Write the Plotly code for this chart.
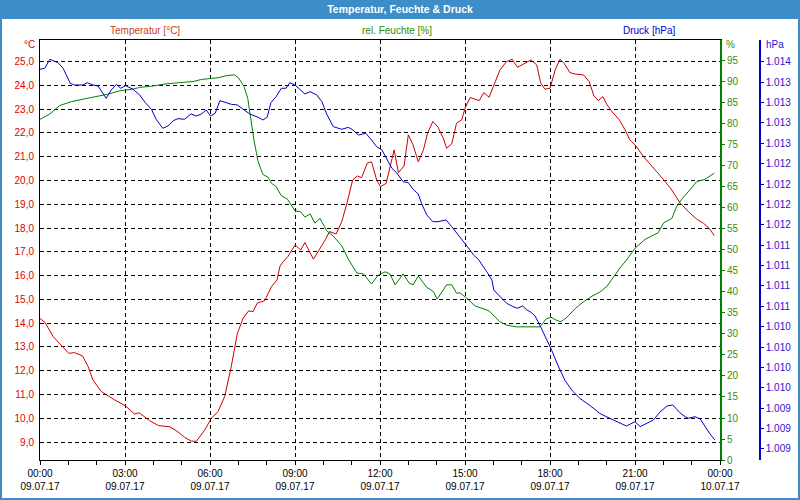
import plotly.graph_objects as go

DAY = "2017-07-09"

# Temperatur [°C]
temp_time = ["00:00","00:11","00:28","00:45","01:01","01:13","01:30","01:42","01:52","02:10",
             "02:38","03:01","03:20","03:30","03:52","04:11","04:35","04:52","05:06","05:20",
             "05:31","05:49","06:03","06:17","06:31","06:45","06:58","07:10","07:22","07:31",
             "07:40","07:56","08:10","08:22","08:28","08:35","08:45","09:00","09:12","09:21",
             "09:39","10:04","10:13","10:27","10:39","10:50","11:02","11:12","11:21","11:33",
             "11:42","11:53","12:01","12:13","12:21","12:30","12:39","12:51","12:55","13:00",
             "13:10","13:21","13:32","13:41","13:52","14:03","14:14","14:21","14:32","14:42",
             "14:53","15:00","15:11","15:30","15:40","15:51","16:00","16:14","16:28","16:40",
             "16:51","17:03","17:20","17:32","17:40","17:49","18:00","18:11","18:21","18:30",
             "18:42","18:53","19:11","19:23","19:33","19:42","19:52","20:01","20:11","20:27",
             "20:39","20:49","21:02","21:19","21:30","21:46","22:00","22:18","22:35","22:53",
             "23:11","23:25","23:37","23:48"]
temp_vals = [14.20,14.02,13.43,13.05,12.73,12.76,12.62,12.17,11.61,11.12,
             10.77,10.52,10.18,10.23,9.90,9.69,9.64,9.43,9.20,9.04,
             9.03,9.51,10.00,10.28,10.91,12.17,13.57,14.20,14.52,14.48,
             14.84,14.95,15.53,15.82,16.38,16.59,16.80,17.29,17.08,17.39,
             16.69,17.50,17.85,17.75,18.27,19.04,20.02,20.19,20.12,20.73,
             20.79,20.02,19.74,19.88,20.52,21.29,20.33,20.61,21.21,21.92,
             21.50,20.79,21.29,22.01,22.48,22.24,21.78,21.36,21.54,22.41,
             22.55,23.04,23.49,23.36,23.70,23.50,23.95,24.65,25.00,25.10,
             24.76,24.89,25.07,24.86,24.12,23.84,23.88,24.65,25.10,24.93,
             24.54,24.48,24.44,24.16,23.56,23.36,23.53,23.18,22.90,22.55,
             22.13,21.71,21.45,20.98,20.75,20.37,20.05,19.60,19.07,18.69,
             18.37,18.20,17.99,17.68]

# rel. Feuchte [%]
hum_time = ["00:00","00:21","00:42","01:06","01:31","01:59","02:24","02:49","03:17","03:31",
            "03:56","04:31","04:59","05:24","05:42","06:17","06:35","06:52","07:01","07:12",
            "07:20","07:27","07:33","07:42","07:52","08:03","08:10","08:20","08:31","08:44",
            "09:00","09:12","09:21","09:32","09:42","09:53","10:07","10:21","10:39","10:53",
            "11:11","11:25","11:42","11:56","12:11","12:21","12:32","12:49","13:02","13:10",
            "13:21","13:39","13:53","14:01","14:14","14:21","14:32","14:42","14:49","15:04",
            "15:21","15:35","15:51","16:14","16:28","16:49","17:18","17:39","17:52","18:02",
            "18:13","18:23","18:36","18:53","19:10","19:29","19:46","20:01","20:16","20:28",
            "20:42","21:00","21:21","21:49","22:01","22:18","22:28","22:39","22:56","23:11",
            "23:28","23:48"]
hum_vals = [81.1,82.4,84.4,85.3,85.9,86.5,87.1,87.9,88.3,88.7,
            89.0,89.6,89.9,90.1,90.6,91.0,91.5,91.7,90.9,88.9,
            86.1,81.0,76.2,71.0,68.0,67.3,65.9,65.1,62.9,62.1,
            59.3,59.1,57.8,58.6,56.4,57.5,54.6,53.3,51.0,47.8,
            44.5,44.3,41.9,44.0,44.8,44.3,41.7,44.3,42.1,41.7,
            43.8,41.1,40.1,38.3,40.6,41.7,41.7,39.7,39.8,38.5,
            36.7,36.1,35.5,32.9,32.1,31.7,31.7,31.7,33.6,34.0,
            33.3,32.9,34.0,36.0,37.6,39.0,40.0,41.4,43.8,45.7,
            47.6,50.4,52.5,54.1,56.5,57.5,60.3,62.1,64.3,66.3,
            66.8,68.3]

# Druck [hPa]
pres_time = ["00:00","00:10","00:21","00:38","00:49","00:56","01:04","01:13","01:31","01:40",
             "01:52","02:03","02:11","02:20","02:31","02:42","02:51","03:01","03:17","03:31",
             "03:43","03:56","04:06","04:20","04:31","04:42","04:52","05:06","05:20","05:31",
             "05:42","05:52","06:01","06:11","06:21","06:35","06:45","06:58","07:10","07:24",
             "07:42","07:52","08:01","08:09","08:20","08:31","08:41","08:49","09:00","09:11",
             "09:21","09:32","09:46","09:57","10:07","10:21","10:39","10:53","11:03","11:14",
             "11:30","11:42","11:53","12:04","12:14","12:25","12:35","12:49","13:00","13:10",
             "13:21","13:28","13:39","13:52","14:03","14:20","14:32","14:49","15:04","15:18",
             "15:28","15:46","15:57","16:01","16:14","16:28","16:42","16:51","17:02","17:11",
             "17:18","17:28","17:39","17:49","18:04","18:17","18:32","18:47","19:04","19:25",
             "19:46","20:14","20:28","20:42","21:00","21:11","21:39","21:53","22:08","22:20",
             "22:35","22:46","22:53","23:07","23:18","23:28","23:39","23:49"]
pres_vals = [1013.507,1013.519,1013.629,1013.588,1013.519,1013.437,1013.335,1013.314,1013.314,1013.342,
             1013.314,1013.302,1013.232,1013.151,1013.253,1013.323,1013.274,1013.306,1013.262,1013.192,
             1013.097,1013.016,1012.894,1012.783,1012.811,1012.876,1012.901,1012.894,1012.959,1012.934,
             1012.959,1013.008,1012.934,1012.967,1013.122,1013.097,1013.078,1013.069,1013.016,1012.959,
             1012.918,1012.885,1012.918,1013.097,1013.171,1013.274,1013.274,1013.342,1013.314,1013.262,
             1013.204,1013.232,1013.192,1013.109,1012.959,1012.803,1012.771,1012.795,1012.762,1012.701,
             1012.722,1012.640,1012.558,1012.518,1012.415,1012.294,1012.239,1012.128,1012.116,1012.035,
             1011.978,1011.863,1011.720,1011.638,1011.638,1011.659,1011.576,1011.454,1011.340,1011.230,
             1011.177,1011.025,1010.923,1010.800,1010.718,1010.637,1010.595,1010.576,1010.604,1010.555,
             1010.534,1010.485,1010.363,1010.240,1010.056,1009.872,1009.688,1009.565,1009.468,1009.382,
             1009.284,1009.206,1009.165,1009.132,1009.185,1009.124,1009.206,1009.304,1009.378,1009.390,
             1009.295,1009.246,1009.227,1009.246,1009.218,1009.124,1009.034,1008.961]

pres_ticks = [1008.85,1009.10,1009.35,1009.60,1009.85,1010.10,1010.35,1010.60,1010.85,1011.10,
              1011.35,1011.60,1011.85,1012.10,1012.35,1012.60,1012.85,1013.10,1013.35,1013.60]

FONT = "Liberation Sans"
RED, GREEN, BLUE = "#cc0000", "#008000", "#0000cc"
FRAME = "#3c8dc8"
PRES_LABEL = "#2a14cc"

def ts(times, day=DAY):
    return [f"{day} {t}" for t in times]

fig = go.Figure()
fig.add_trace(go.Scatter(x=ts(temp_time), y=temp_vals, mode="lines", yaxis="y",
                         line=dict(color=RED, width=1), name="Temperatur"))
fig.add_trace(go.Scatter(x=ts(hum_time), y=hum_vals, mode="lines", yaxis="y2",
                         line=dict(color=GREEN, width=1), name="rel. Feuchte"))
fig.add_trace(go.Scatter(x=ts(pres_time), y=pres_vals, mode="lines", yaxis="y3",
                         line=dict(color=BLUE, width=1), name="Druck"))

W = 740.0  # plot-area pixel span incl. right margin zone
fig.update_layout(
    width=800, height=500,
    margin=dict(l=40, r=20, t=40, b=40, autoexpand=False),
    paper_bgcolor=FRAME, plot_bgcolor="white",
    separators=",.",
    showlegend=False,
    font=dict(family=FONT, size=10, color="black"),
    title=dict(text="Temperatur, Feuchte & Druck", x=0.5, xref="container",
               y=1 - 9.5 / 500, yref="container", yanchor="middle", xanchor="center",
               automargin=False,
               font=dict(family=FONT, size=10.5, color="white", weight="bold")),
    xaxis=dict(type="date", domain=[0, 680 / W], automargin=False,
               range=[f"{DAY} 00:00", "2017-07-10 00:00"],
               tick0=f"{DAY} 00:00", dtick=3 * 3600 * 1000,
               tickformat="%H:%M<br>%d.%m.%y",
               showgrid=True, gridcolor="black", gridwidth=1, griddash="4px,3px",
               showline=True, linecolor="black", linewidth=1, mirror=True,
               ticks="outside", ticklen=4, tickcolor="black",
               minor=dict(dtick=3600 * 1000, ticks="outside", ticklen=4,
                          tickcolor="black", showgrid=False),
               zeroline=False, tickfont=dict(size=10, color="black")),
    yaxis=dict(range=[8.243, 25.91], dtick=1, tick0=0, tickformat=".1f", automargin=False,
               showgrid=True, gridcolor="black", gridwidth=1, griddash="4px,3px",
               showline=True, linecolor="black", linewidth=1, ticks="",
               zeroline=False, tickfont=dict(size=10, color="#dd0000"),
               ticklabelstandoff=3),
    yaxis2=dict(range=[0, 99.99], dtick=5, tick0=0, overlaying="y", side="right",
                anchor="x", showgrid=False, zeroline=False, automargin=False,
                showline=True, linecolor=GREEN, linewidth=2,
                ticks="outside", ticklen=3, tickcolor=GREEN,
                tickfont=dict(size=10, color="#4a8a00")),
    yaxis3=dict(range=[1008.715, 1013.866], overlaying="y", side="right",
                anchor="free", position=720 / W, automargin=False, autoshift=False,
                tickmode="array", tickvals=pres_ticks, tickformat=",.0f",
                showgrid=False, zeroline=False,
                showline=True, linecolor=BLUE, linewidth=1.5,
                ticks="outside", ticklen=3, tickcolor=BLUE,
                tickfont=dict(size=10, color=PRES_LABEL)),
    shapes=[dict(type="rect", xref="paper", yref="paper", layer="below",
                 x0=(2 - 40) / W, x1=(798 - 40) / W,
                 y0=(460 - 498) / 420, y1=(460 - 19) / 420,
                 fillcolor="white", line=dict(width=0))],
)

def px_x(p):
    return (p - 40) / W

def px_y(p):
    return (460 - p) / 420

ann = [
    ("Temperatur [°C]", 145, 30, "center", "#c8401e"),
    ("rel. Feuchte [%]", 397, 30, "center", "#2e8b00"),
    ("Druck [hPa]", 649, 30, "center", "#0000cc"),
    ("°C", 37, 45, "right", "#dd0000"),
    ("%", 724, 45, "left", "#4a8a00"),
    ("hPa", 764, 45, "left", PRES_LABEL),
]
for text, x, y, xa, col in ann:
    fig.add_annotation(text=text, xref="paper", yref="paper", x=px_x(x), y=px_y(y),
                       xanchor=xa, yanchor="middle", showarrow=False,
                       font=dict(family=FONT, size=10, color=col))

fig.write_html("out.html")
